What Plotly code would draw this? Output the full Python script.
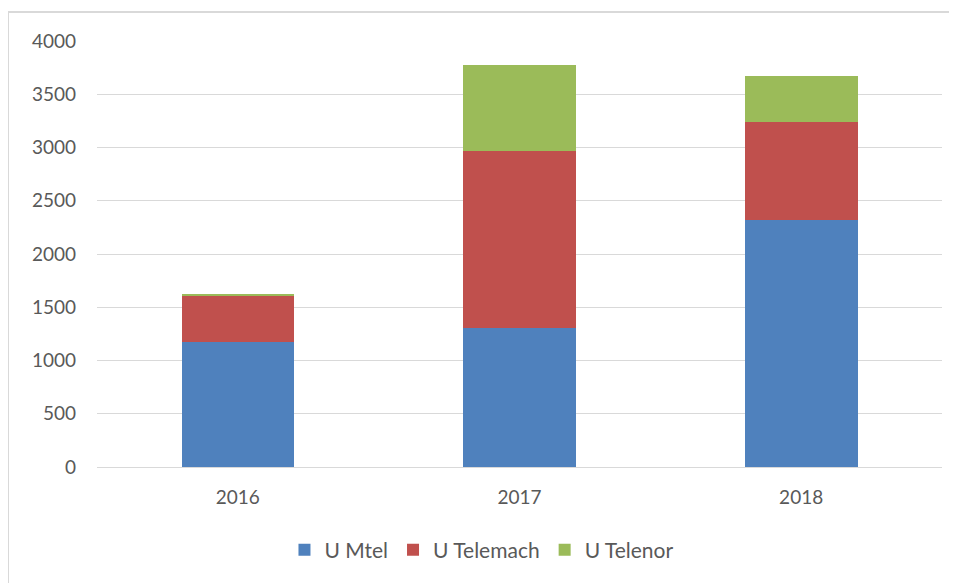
import plotly.graph_objects as go

years = ["2016", "2017", "2018"]
mtel = [1177, 1302, 2319]
telemach = [431, 1665, 918]
telenor = [16, 808, 434]

series = [
    ("U Mtel", mtel, "#4F81BD"),
    ("U Telemach", telemach, "#C0504D"),
    ("U Telenor", telenor, "#9BBB59"),
]

fig = go.Figure()
for name, vals, color in series:
    fig.add_trace(
        go.Bar(
            x=years,
            y=vals,
            name=name,
            marker=dict(color=color, line=dict(width=0)),
        )
    )

font_name = "Lato, Open Sans, sans-serif"

# page body has an 8px margin, so the figure is sized a bit smaller
fig.update_layout(
    barmode="stack",
    bargap=0.6,
    width=949,
    height=575,
    margin=dict(l=89, r=15, t=33, b=116),
    paper_bgcolor="white",
    plot_bgcolor="white",
    font=dict(family=font_name, size=19, color="#595959"),
    showlegend=True,
    legend=dict(
        orientation="h",
        x=0.455,
        xanchor="center",
        y=-0.195,
        yanchor="middle",
        font=dict(size=21, color="#595959"),
        itemwidth=30,
        traceorder="normal",
    ),
    xaxis=dict(
        showgrid=False,
        showline=True,
        linecolor="#d9d9d9",
        linewidth=1,
        ticks="",
        ticklabelstandoff=13,
    ),
    yaxis=dict(
        range=[0, 4000],
        dtick=500,
        showgrid=True,
        gridcolor="#d9d9d9",
        gridwidth=1,
        zeroline=False,
        showline=False,
        ticks="",
        ticklabelstandoff=20,
    ),
    # outer frame: only left and top edges are visible in the crop
    shapes=[
        dict(
            type="path",
            xref="paper",
            yref="paper",
            path="M -0.1053,-0.5 L -0.1053,1.068 L 1.2,1.068",
            line=dict(color="#d9d9d9", width=2),
            layer="below",
        )
    ],
)

fig.write_html("out.html")
